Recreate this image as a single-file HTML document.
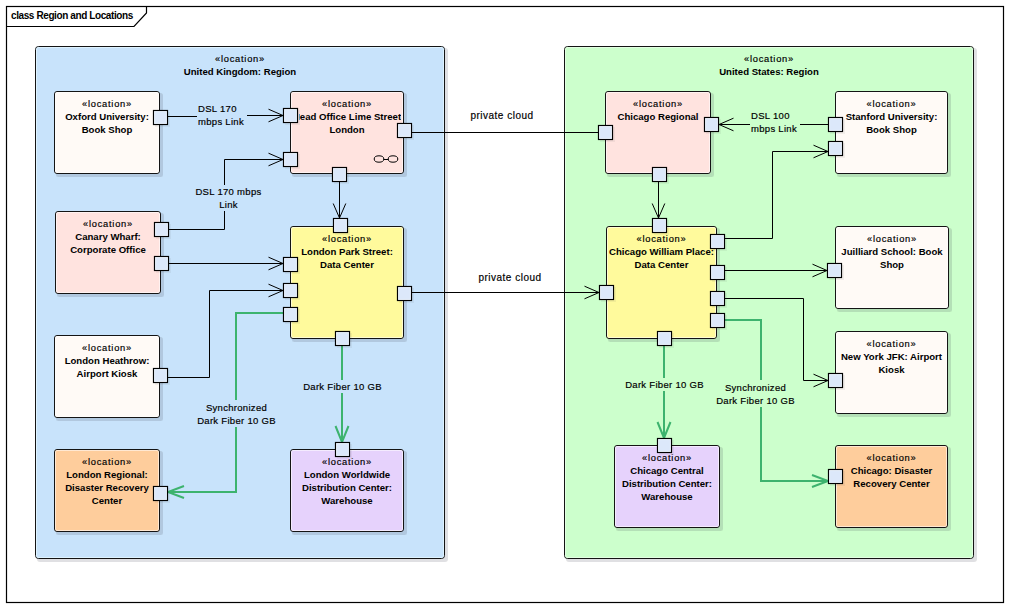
<!DOCTYPE html><html><head><meta charset="utf-8"><style>html,body{margin:0;padding:0;background:#fff;overflow:hidden}svg{display:block}text{font-family:"Liberation Sans",sans-serif}</style></head><body>
<svg width="1009" height="608" viewBox="0 0 1009 608">
<defs><clipPath id="hoclip"><rect x="299" y="100" width="102" height="30"/></clipPath><filter id="blur" x="-10%" y="-10%" width="120%" height="120%"><feGaussianBlur stdDeviation="0.6"/></filter></defs>
<rect x="0" y="0" width="1009" height="608" fill="#ffffff"/>
<rect x="6.5" y="6.5" width="997" height="596" fill="#fff" stroke="#000" stroke-width="1.2"/>
<path d="M6.5 26.5 H134 L146.5 13 V6.5" fill="none" stroke="#000" stroke-width="1.2"/>
<text x="11" y="19.3" font-size="10" font-weight="700" text-anchor="start" fill="#000"  letter-spacing="-0.4">class Region and Locations</text>
<rect x="37" y="48" width="411" height="514" rx="3" fill="rgba(50,55,65,0.15)" filter="url(#blur)"/>
<rect x="35.5" y="46.5" width="409" height="512" rx="3" fill="#C8E3FB" stroke="#141414" stroke-width="1"/>
<rect x="36.5" y="47.5" width="407" height="510" rx="2" fill="none" stroke="#E0F4FF" stroke-opacity="0.9" stroke-width="1"/>
<text x="240" y="62" font-size="9.3" font-weight="400" text-anchor="middle" fill="#000"  stroke="#000" stroke-width="0.18" letter-spacing="0.75">«location»</text>
<text x="240" y="75" font-size="9.6" font-weight="700" text-anchor="middle" fill="#000" >United Kingdom: Region</text>
<rect x="566" y="48" width="411" height="514" rx="3" fill="rgba(50,55,65,0.15)" filter="url(#blur)"/>
<rect x="564.5" y="46.5" width="409" height="512" rx="3" fill="#CCFFCC" stroke="#141414" stroke-width="1"/>
<rect x="565.5" y="47.5" width="407" height="510" rx="2" fill="none" stroke="#E4FFE4" stroke-opacity="0.9" stroke-width="1"/>
<text x="769" y="62" font-size="9.3" font-weight="400" text-anchor="middle" fill="#000"  stroke="#000" stroke-width="0.18" letter-spacing="0.75">«location»</text>
<text x="769" y="75" font-size="9.6" font-weight="700" text-anchor="middle" fill="#000" >United States: Region</text>
<path d="M168 116.5 L197 116.5" fill="none" stroke="#000000" stroke-width="1" stroke-linejoin="miter"/>
<path d="M247 115.5 L283 115.5" fill="none" stroke="#000000" stroke-width="1" stroke-linejoin="miter"/>
<path d="M268.5 109.2 L283 115.5 L268.5 121.8" fill="none" stroke="#000000" stroke-width="1" stroke-linejoin="miter"/>
<path d="M168 229.5 L224.5 229.5 L224.5 211" fill="none" stroke="#000000" stroke-width="1" stroke-linejoin="miter"/>
<path d="M224.5 185 L224.5 159.5 L283 159.5" fill="none" stroke="#000000" stroke-width="1" stroke-linejoin="miter"/>
<path d="M268.5 153.2 L283 159.5 L268.5 165.8" fill="none" stroke="#000000" stroke-width="1" stroke-linejoin="miter"/>
<path d="M168 263.5 L283 263.5" fill="none" stroke="#000000" stroke-width="1" stroke-linejoin="miter"/>
<path d="M268.5 257.2 L283 263.5 L268.5 269.8" fill="none" stroke="#000000" stroke-width="1" stroke-linejoin="miter"/>
<path d="M168 377.5 L209.5 377.5 L209.5 290.5 L283 290.5" fill="none" stroke="#000000" stroke-width="1" stroke-linejoin="miter"/>
<path d="M268.5 284.2 L283 290.5 L268.5 296.8" fill="none" stroke="#000000" stroke-width="1" stroke-linejoin="miter"/>
<path d="M283 313 L236 313 L236 400" fill="none" stroke="#3DB36E" stroke-width="2" stroke-linejoin="miter"/>
<path d="M236 427 L236 492 L168 492" fill="none" stroke="#3DB36E" stroke-width="2" stroke-linejoin="miter"/>
<path d="M184 486 L168 492 L184 498" fill="none" stroke="#3DB36E" stroke-width="2" stroke-linejoin="miter"/>
<path d="M339.5 181 L339.5 218" fill="none" stroke="#000000" stroke-width="1" stroke-linejoin="miter"/>
<path d="M333.2 203.5 L339.5 218 L345.8 203.5" fill="none" stroke="#000000" stroke-width="1" stroke-linejoin="miter"/>
<path d="M342 345 L342 380" fill="none" stroke="#3DB36E" stroke-width="2" stroke-linejoin="miter"/>
<path d="M342 393 L342 442" fill="none" stroke="#3DB36E" stroke-width="2" stroke-linejoin="miter"/>
<path d="M335.5 426 L342 442 L348.5 426" fill="none" stroke="#3DB36E" stroke-width="2" stroke-linejoin="miter"/>
<path d="M411 132.5 L598 132.5" fill="none" stroke="#000000" stroke-width="1" stroke-linejoin="miter"/>
<path d="M411 292.5 L599 292.5" fill="none" stroke="#000000" stroke-width="1" stroke-linejoin="miter"/>
<path d="M584.5 286.2 L599 292.5 L584.5 298.8" fill="none" stroke="#000000" stroke-width="1" stroke-linejoin="miter"/>
<path d="M719 124.5 L750 124.5" fill="none" stroke="#000000" stroke-width="1" stroke-linejoin="miter"/>
<path d="M800 124.5 L828 124.5" fill="none" stroke="#000000" stroke-width="1" stroke-linejoin="miter"/>
<path d="M733.5 118.2 L719 124.5 L733.5 130.8" fill="none" stroke="#000000" stroke-width="1" stroke-linejoin="miter"/>
<path d="M658.5 181 L658.5 218" fill="none" stroke="#000000" stroke-width="1" stroke-linejoin="miter"/>
<path d="M652.2 203.5 L658.5 218 L664.8 203.5" fill="none" stroke="#000000" stroke-width="1" stroke-linejoin="miter"/>
<path d="M724 238.5 L772.5 238.5 L772.5 151.5 L828 151.5" fill="none" stroke="#000000" stroke-width="1" stroke-linejoin="miter"/>
<path d="M813.5 145.2 L828 151.5 L813.5 157.8" fill="none" stroke="#000000" stroke-width="1" stroke-linejoin="miter"/>
<path d="M724 270.5 L827 270.5" fill="none" stroke="#000000" stroke-width="1" stroke-linejoin="miter"/>
<path d="M812.5 264.2 L827 270.5 L812.5 276.8" fill="none" stroke="#000000" stroke-width="1" stroke-linejoin="miter"/>
<path d="M724 298.5 L803.5 298.5 L803.5 380.5 L828 380.5" fill="none" stroke="#000000" stroke-width="1" stroke-linejoin="miter"/>
<path d="M813.5 374.2 L828 380.5 L813.5 386.8" fill="none" stroke="#000000" stroke-width="1" stroke-linejoin="miter"/>
<path d="M724 320 L761 320 L761 380" fill="none" stroke="#3DB36E" stroke-width="2" stroke-linejoin="miter"/>
<path d="M761 407 L761 481 L828 481" fill="none" stroke="#3DB36E" stroke-width="2" stroke-linejoin="miter"/>
<path d="M812 475 L828 481 L812 487" fill="none" stroke="#3DB36E" stroke-width="2" stroke-linejoin="miter"/>
<path d="M664 345 L664 378" fill="none" stroke="#3DB36E" stroke-width="2" stroke-linejoin="miter"/>
<path d="M664 391 L664 438" fill="none" stroke="#3DB36E" stroke-width="2" stroke-linejoin="miter"/>
<path d="M657.5 422 L664 438 L670.5 422" fill="none" stroke="#3DB36E" stroke-width="2" stroke-linejoin="miter"/>
<rect x="56" y="93" width="107" height="84" rx="2.5" fill="rgba(50,55,65,0.15)" filter="url(#blur)"/>
<rect x="54.5" y="91.5" width="105" height="82" rx="2.5" fill="#FFFAF6" stroke="#141414" stroke-width="1"/>
<rect x="55.5" y="92.5" width="103" height="80" rx="1.5" fill="none" stroke="#ffffff" stroke-opacity="0.55" stroke-width="1"/>
<text x="107.0" y="107" font-size="9.3" font-weight="400" text-anchor="middle" fill="#000"  stroke="#000" stroke-width="0.18" letter-spacing="0.75">«location»</text>
<text x="107.0" y="120" font-size="9.6" font-weight="700" text-anchor="middle" fill="#000" >Oxford University:</text>
<text x="107.0" y="133" font-size="9.6" font-weight="700" text-anchor="middle" fill="#000" >Book Shop</text>
<rect x="292" y="93" width="115" height="84" rx="2.5" fill="rgba(50,55,65,0.15)" filter="url(#blur)"/>
<rect x="290.5" y="91.5" width="113" height="82" rx="2.5" fill="#FFE3DF" stroke="#141414" stroke-width="1"/>
<rect x="291.5" y="92.5" width="111" height="80" rx="1.5" fill="none" stroke="#ffffff" stroke-opacity="0.55" stroke-width="1"/>
<text x="347.0" y="107" font-size="9.3" font-weight="400" text-anchor="middle" fill="#000"  stroke="#000" stroke-width="0.18" letter-spacing="0.75">«location»</text>
<g clip-path="url(#hoclip)">
<text x="347.0" y="120" font-size="9.6" font-weight="700" text-anchor="middle" fill="#000" >Head Office Lime Street</text>
</g>
<text x="347.0" y="133" font-size="9.6" font-weight="700" text-anchor="middle" fill="#000" >London</text>
<rect x="57" y="213" width="107" height="84" rx="2.5" fill="rgba(50,55,65,0.15)" filter="url(#blur)"/>
<rect x="55.5" y="211.5" width="105" height="82" rx="2.5" fill="#FFE3DF" stroke="#141414" stroke-width="1"/>
<rect x="56.5" y="212.5" width="103" height="80" rx="1.5" fill="none" stroke="#ffffff" stroke-opacity="0.55" stroke-width="1"/>
<text x="108.0" y="227" font-size="9.3" font-weight="400" text-anchor="middle" fill="#000"  stroke="#000" stroke-width="0.18" letter-spacing="0.75">«location»</text>
<text x="108.0" y="240" font-size="9.6" font-weight="700" text-anchor="middle" fill="#000" >Canary Wharf:</text>
<text x="108.0" y="253" font-size="9.6" font-weight="700" text-anchor="middle" fill="#000" >Corporate Office</text>
<rect x="292" y="228" width="115" height="114" rx="2.5" fill="rgba(50,55,65,0.15)" filter="url(#blur)"/>
<rect x="290.5" y="226.5" width="113" height="112" rx="2.5" fill="#FFFA9C" stroke="#141414" stroke-width="1"/>
<rect x="291.5" y="227.5" width="111" height="110" rx="1.5" fill="none" stroke="#ffffff" stroke-opacity="0.55" stroke-width="1"/>
<text x="347.0" y="242" font-size="9.3" font-weight="400" text-anchor="middle" fill="#000"  stroke="#000" stroke-width="0.18" letter-spacing="0.75">«location»</text>
<text x="347.0" y="255" font-size="9.6" font-weight="700" text-anchor="middle" fill="#000" >London Park Street:</text>
<text x="347.0" y="268" font-size="9.6" font-weight="700" text-anchor="middle" fill="#000" >Data Center</text>
<rect x="56" y="337" width="107" height="84" rx="2.5" fill="rgba(50,55,65,0.15)" filter="url(#blur)"/>
<rect x="54.5" y="335.5" width="105" height="82" rx="2.5" fill="#FFFAF6" stroke="#141414" stroke-width="1"/>
<rect x="55.5" y="336.5" width="103" height="80" rx="1.5" fill="none" stroke="#ffffff" stroke-opacity="0.55" stroke-width="1"/>
<text x="107.0" y="351" font-size="9.3" font-weight="400" text-anchor="middle" fill="#000"  stroke="#000" stroke-width="0.18" letter-spacing="0.75">«location»</text>
<text x="107.0" y="364" font-size="9.6" font-weight="700" text-anchor="middle" fill="#000" >London Heathrow:</text>
<text x="107.0" y="377" font-size="9.6" font-weight="700" text-anchor="middle" fill="#000" >Airport Kiosk</text>
<rect x="56" y="451" width="107" height="84" rx="2.5" fill="rgba(50,55,65,0.15)" filter="url(#blur)"/>
<rect x="54.5" y="449.5" width="105" height="82" rx="2.5" fill="#FECD9C" stroke="#141414" stroke-width="1"/>
<rect x="55.5" y="450.5" width="103" height="80" rx="1.5" fill="none" stroke="#ffffff" stroke-opacity="0.55" stroke-width="1"/>
<text x="107.0" y="465" font-size="9.3" font-weight="400" text-anchor="middle" fill="#000"  stroke="#000" stroke-width="0.18" letter-spacing="0.75">«location»</text>
<text x="107.0" y="478" font-size="9.6" font-weight="700" text-anchor="middle" fill="#000" >London Regional:</text>
<text x="107.0" y="491" font-size="9.6" font-weight="700" text-anchor="middle" fill="#000" >Disaster Recovery</text>
<text x="107.0" y="504" font-size="9.6" font-weight="700" text-anchor="middle" fill="#000" >Center</text>
<rect x="292" y="451" width="115" height="84" rx="2.5" fill="rgba(50,55,65,0.15)" filter="url(#blur)"/>
<rect x="290.5" y="449.5" width="113" height="82" rx="2.5" fill="#E6D2FC" stroke="#141414" stroke-width="1"/>
<rect x="291.5" y="450.5" width="111" height="80" rx="1.5" fill="none" stroke="#ffffff" stroke-opacity="0.55" stroke-width="1"/>
<text x="347.0" y="465" font-size="9.3" font-weight="400" text-anchor="middle" fill="#000"  stroke="#000" stroke-width="0.18" letter-spacing="0.75">«location»</text>
<text x="347.0" y="478" font-size="9.6" font-weight="700" text-anchor="middle" fill="#000" >London Worldwide</text>
<text x="347.0" y="491" font-size="9.6" font-weight="700" text-anchor="middle" fill="#000" >Distribution Center:</text>
<text x="347.0" y="504" font-size="9.6" font-weight="700" text-anchor="middle" fill="#000" >Warehouse</text>
<rect x="607" y="93" width="107" height="84" rx="2.5" fill="rgba(50,55,65,0.15)" filter="url(#blur)"/>
<rect x="605.5" y="91.5" width="105" height="82" rx="2.5" fill="#FFE3DF" stroke="#141414" stroke-width="1"/>
<rect x="606.5" y="92.5" width="103" height="80" rx="1.5" fill="none" stroke="#ffffff" stroke-opacity="0.55" stroke-width="1"/>
<text x="658.0" y="107" font-size="9.3" font-weight="400" text-anchor="middle" fill="#000"  stroke="#000" stroke-width="0.18" letter-spacing="0.75">«location»</text>
<text x="658.0" y="120" font-size="9.6" font-weight="700" text-anchor="middle" fill="#000" >Chicago Regional</text>
<rect x="837" y="93" width="114" height="84" rx="2.5" fill="rgba(50,55,65,0.15)" filter="url(#blur)"/>
<rect x="835.5" y="91.5" width="112" height="82" rx="2.5" fill="#FFFAF6" stroke="#141414" stroke-width="1"/>
<rect x="836.5" y="92.5" width="110" height="80" rx="1.5" fill="none" stroke="#ffffff" stroke-opacity="0.55" stroke-width="1"/>
<text x="891.5" y="107" font-size="9.3" font-weight="400" text-anchor="middle" fill="#000"  stroke="#000" stroke-width="0.18" letter-spacing="0.75">«location»</text>
<text x="891.5" y="120" font-size="9.6" font-weight="700" text-anchor="middle" fill="#000" >Stanford University:</text>
<text x="891.5" y="133" font-size="9.6" font-weight="700" text-anchor="middle" fill="#000" >Book Shop</text>
<rect x="608" y="228" width="112" height="114" rx="2.5" fill="rgba(50,55,65,0.15)" filter="url(#blur)"/>
<rect x="606.5" y="226.5" width="110" height="112" rx="2.5" fill="#FFFA9C" stroke="#141414" stroke-width="1"/>
<rect x="607.5" y="227.5" width="108" height="110" rx="1.5" fill="none" stroke="#ffffff" stroke-opacity="0.55" stroke-width="1"/>
<text x="661.5" y="242" font-size="9.3" font-weight="400" text-anchor="middle" fill="#000"  stroke="#000" stroke-width="0.18" letter-spacing="0.75">«location»</text>
<text x="661.5" y="255" font-size="9.6" font-weight="700" text-anchor="middle" fill="#000" >Chicago William Place:</text>
<text x="661.5" y="268" font-size="9.6" font-weight="700" text-anchor="middle" fill="#000" >Data Center</text>
<rect x="837" y="228" width="115" height="84" rx="2.5" fill="rgba(50,55,65,0.15)" filter="url(#blur)"/>
<rect x="835.5" y="226.5" width="113" height="82" rx="2.5" fill="#FFFAF6" stroke="#141414" stroke-width="1"/>
<rect x="836.5" y="227.5" width="111" height="80" rx="1.5" fill="none" stroke="#ffffff" stroke-opacity="0.55" stroke-width="1"/>
<text x="892.0" y="242" font-size="9.3" font-weight="400" text-anchor="middle" fill="#000"  stroke="#000" stroke-width="0.18" letter-spacing="0.75">«location»</text>
<text x="892.0" y="255" font-size="9.6" font-weight="700" text-anchor="middle" fill="#000" >Juilliard School: Book</text>
<text x="892.0" y="268" font-size="9.6" font-weight="700" text-anchor="middle" fill="#000" >Shop</text>
<rect x="837" y="333" width="114" height="84" rx="2.5" fill="rgba(50,55,65,0.15)" filter="url(#blur)"/>
<rect x="835.5" y="331.5" width="112" height="82" rx="2.5" fill="#FFFAF6" stroke="#141414" stroke-width="1"/>
<rect x="836.5" y="332.5" width="110" height="80" rx="1.5" fill="none" stroke="#ffffff" stroke-opacity="0.55" stroke-width="1"/>
<text x="891.5" y="347" font-size="9.3" font-weight="400" text-anchor="middle" fill="#000"  stroke="#000" stroke-width="0.18" letter-spacing="0.75">«location»</text>
<text x="891.5" y="360" font-size="9.6" font-weight="700" text-anchor="middle" fill="#000" >New York JFK: Airport</text>
<text x="891.5" y="373" font-size="9.6" font-weight="700" text-anchor="middle" fill="#000" >Kiosk</text>
<rect x="616" y="447" width="107" height="84" rx="2.5" fill="rgba(50,55,65,0.15)" filter="url(#blur)"/>
<rect x="614.5" y="445.5" width="105" height="82" rx="2.5" fill="#E6D2FC" stroke="#141414" stroke-width="1"/>
<rect x="615.5" y="446.5" width="103" height="80" rx="1.5" fill="none" stroke="#ffffff" stroke-opacity="0.55" stroke-width="1"/>
<text x="667.0" y="461" font-size="9.3" font-weight="400" text-anchor="middle" fill="#000"  stroke="#000" stroke-width="0.18" letter-spacing="0.75">«location»</text>
<text x="667.0" y="474" font-size="9.6" font-weight="700" text-anchor="middle" fill="#000" >Chicago Central</text>
<text x="667.0" y="487" font-size="9.6" font-weight="700" text-anchor="middle" fill="#000" >Distribution Center:</text>
<text x="667.0" y="500" font-size="9.6" font-weight="700" text-anchor="middle" fill="#000" >Warehouse</text>
<rect x="837" y="447" width="114" height="84" rx="2.5" fill="rgba(50,55,65,0.15)" filter="url(#blur)"/>
<rect x="835.5" y="445.5" width="112" height="82" rx="2.5" fill="#FECD9C" stroke="#141414" stroke-width="1"/>
<rect x="836.5" y="446.5" width="110" height="80" rx="1.5" fill="none" stroke="#ffffff" stroke-opacity="0.55" stroke-width="1"/>
<text x="891.5" y="461" font-size="9.3" font-weight="400" text-anchor="middle" fill="#000"  stroke="#000" stroke-width="0.18" letter-spacing="0.75">«location»</text>
<text x="891.5" y="474" font-size="9.6" font-weight="700" text-anchor="middle" fill="#000" >Chicago: Disaster</text>
<text x="891.5" y="487" font-size="9.6" font-weight="700" text-anchor="middle" fill="#000" >Recovery Center</text>
<ellipse cx="379" cy="159" rx="4.8" ry="3.2" fill="none" stroke="#000" stroke-width="1"/>
<ellipse cx="393" cy="159" rx="4.8" ry="3.2" fill="none" stroke="#000" stroke-width="1"/>
<path d="M383.8 159.5 H388.2" stroke="#000" stroke-width="1"/>
<rect x="155" y="112" width="15" height="15" fill="rgba(50,55,65,0.07)" filter="url(#blur)"/>
<rect x="153.5" y="110.5" width="14" height="14" fill="#DCE8FA" stroke="#000" stroke-width="1.2"/>
<rect x="154.6" y="111.6" width="11.8" height="11.8" fill="none" stroke="#F4F8FF" stroke-opacity="0.6" stroke-width="1"/>
<rect x="285" y="110" width="15" height="15" fill="rgba(50,55,65,0.07)" filter="url(#blur)"/>
<rect x="283.5" y="108.5" width="14" height="14" fill="#DCE8FA" stroke="#000" stroke-width="1.2"/>
<rect x="284.6" y="109.6" width="11.8" height="11.8" fill="none" stroke="#F4F8FF" stroke-opacity="0.6" stroke-width="1"/>
<rect x="285" y="154" width="15" height="15" fill="rgba(50,55,65,0.07)" filter="url(#blur)"/>
<rect x="283.5" y="152.5" width="14" height="14" fill="#DCE8FA" stroke="#000" stroke-width="1.2"/>
<rect x="284.6" y="153.6" width="11.8" height="11.8" fill="none" stroke="#F4F8FF" stroke-opacity="0.6" stroke-width="1"/>
<rect x="399" y="125" width="15" height="15" fill="rgba(50,55,65,0.07)" filter="url(#blur)"/>
<rect x="397.5" y="123.5" width="14" height="14" fill="#DCE8FA" stroke="#000" stroke-width="1.2"/>
<rect x="398.6" y="124.6" width="11.8" height="11.8" fill="none" stroke="#F4F8FF" stroke-opacity="0.6" stroke-width="1"/>
<rect x="334" y="169" width="15" height="15" fill="rgba(50,55,65,0.07)" filter="url(#blur)"/>
<rect x="332.5" y="167.5" width="14" height="14" fill="#DCE8FA" stroke="#000" stroke-width="1.2"/>
<rect x="333.6" y="168.6" width="11.8" height="11.8" fill="none" stroke="#F4F8FF" stroke-opacity="0.6" stroke-width="1"/>
<rect x="156" y="224" width="15" height="15" fill="rgba(50,55,65,0.07)" filter="url(#blur)"/>
<rect x="154.5" y="222.5" width="14" height="14" fill="#DCE8FA" stroke="#000" stroke-width="1.2"/>
<rect x="155.6" y="223.6" width="11.8" height="11.8" fill="none" stroke="#F4F8FF" stroke-opacity="0.6" stroke-width="1"/>
<rect x="156" y="258" width="15" height="15" fill="rgba(50,55,65,0.07)" filter="url(#blur)"/>
<rect x="154.5" y="256.5" width="14" height="14" fill="#DCE8FA" stroke="#000" stroke-width="1.2"/>
<rect x="155.6" y="257.6" width="11.8" height="11.8" fill="none" stroke="#F4F8FF" stroke-opacity="0.6" stroke-width="1"/>
<rect x="285" y="259" width="15" height="15" fill="rgba(50,55,65,0.07)" filter="url(#blur)"/>
<rect x="283.5" y="257.5" width="14" height="14" fill="#DCE8FA" stroke="#000" stroke-width="1.2"/>
<rect x="284.6" y="258.6" width="11.8" height="11.8" fill="none" stroke="#F4F8FF" stroke-opacity="0.6" stroke-width="1"/>
<rect x="285" y="285" width="15" height="15" fill="rgba(50,55,65,0.07)" filter="url(#blur)"/>
<rect x="283.5" y="283.5" width="14" height="14" fill="#DCE8FA" stroke="#000" stroke-width="1.2"/>
<rect x="284.6" y="284.6" width="11.8" height="11.8" fill="none" stroke="#F4F8FF" stroke-opacity="0.6" stroke-width="1"/>
<rect x="285" y="309" width="15" height="15" fill="rgba(50,55,65,0.07)" filter="url(#blur)"/>
<rect x="283.5" y="307.5" width="14" height="14" fill="#DCE8FA" stroke="#000" stroke-width="1.2"/>
<rect x="284.6" y="308.6" width="11.8" height="11.8" fill="none" stroke="#F4F8FF" stroke-opacity="0.6" stroke-width="1"/>
<rect x="399" y="288" width="15" height="15" fill="rgba(50,55,65,0.07)" filter="url(#blur)"/>
<rect x="397.5" y="286.5" width="14" height="14" fill="#DCE8FA" stroke="#000" stroke-width="1.2"/>
<rect x="398.6" y="287.6" width="11.8" height="11.8" fill="none" stroke="#F4F8FF" stroke-opacity="0.6" stroke-width="1"/>
<rect x="335" y="220" width="15" height="15" fill="rgba(50,55,65,0.07)" filter="url(#blur)"/>
<rect x="333.5" y="218.5" width="14" height="14" fill="#DCE8FA" stroke="#000" stroke-width="1.2"/>
<rect x="334.6" y="219.6" width="11.8" height="11.8" fill="none" stroke="#F4F8FF" stroke-opacity="0.6" stroke-width="1"/>
<rect x="337" y="333" width="15" height="15" fill="rgba(50,55,65,0.07)" filter="url(#blur)"/>
<rect x="335.5" y="331.5" width="14" height="14" fill="#DCE8FA" stroke="#000" stroke-width="1.2"/>
<rect x="336.6" y="332.6" width="11.8" height="11.8" fill="none" stroke="#F4F8FF" stroke-opacity="0.6" stroke-width="1"/>
<rect x="155" y="370" width="15" height="15" fill="rgba(50,55,65,0.07)" filter="url(#blur)"/>
<rect x="153.5" y="368.5" width="14" height="14" fill="#DCE8FA" stroke="#000" stroke-width="1.2"/>
<rect x="154.6" y="369.6" width="11.8" height="11.8" fill="none" stroke="#F4F8FF" stroke-opacity="0.6" stroke-width="1"/>
<rect x="155" y="488" width="15" height="15" fill="rgba(50,55,65,0.07)" filter="url(#blur)"/>
<rect x="153.5" y="486.5" width="14" height="14" fill="#DCE8FA" stroke="#000" stroke-width="1.2"/>
<rect x="154.6" y="487.6" width="11.8" height="11.8" fill="none" stroke="#F4F8FF" stroke-opacity="0.6" stroke-width="1"/>
<rect x="337" y="444" width="15" height="15" fill="rgba(50,55,65,0.07)" filter="url(#blur)"/>
<rect x="335.5" y="442.5" width="14" height="14" fill="#DCE8FA" stroke="#000" stroke-width="1.2"/>
<rect x="336.6" y="443.6" width="11.8" height="11.8" fill="none" stroke="#F4F8FF" stroke-opacity="0.6" stroke-width="1"/>
<rect x="600" y="127" width="15" height="15" fill="rgba(50,55,65,0.07)" filter="url(#blur)"/>
<rect x="598.5" y="125.5" width="14" height="14" fill="#DCE8FA" stroke="#000" stroke-width="1.2"/>
<rect x="599.6" y="126.6" width="11.8" height="11.8" fill="none" stroke="#F4F8FF" stroke-opacity="0.6" stroke-width="1"/>
<rect x="706" y="119" width="15" height="15" fill="rgba(50,55,65,0.07)" filter="url(#blur)"/>
<rect x="704.5" y="117.5" width="14" height="14" fill="#DCE8FA" stroke="#000" stroke-width="1.2"/>
<rect x="705.6" y="118.6" width="11.8" height="11.8" fill="none" stroke="#F4F8FF" stroke-opacity="0.6" stroke-width="1"/>
<rect x="654" y="169" width="15" height="15" fill="rgba(50,55,65,0.07)" filter="url(#blur)"/>
<rect x="652.5" y="167.5" width="14" height="14" fill="#DCE8FA" stroke="#000" stroke-width="1.2"/>
<rect x="653.6" y="168.6" width="11.8" height="11.8" fill="none" stroke="#F4F8FF" stroke-opacity="0.6" stroke-width="1"/>
<rect x="830" y="119" width="15" height="15" fill="rgba(50,55,65,0.07)" filter="url(#blur)"/>
<rect x="828.5" y="117.5" width="14" height="14" fill="#DCE8FA" stroke="#000" stroke-width="1.2"/>
<rect x="829.6" y="118.6" width="11.8" height="11.8" fill="none" stroke="#F4F8FF" stroke-opacity="0.6" stroke-width="1"/>
<rect x="830" y="143" width="15" height="15" fill="rgba(50,55,65,0.07)" filter="url(#blur)"/>
<rect x="828.5" y="141.5" width="14" height="14" fill="#DCE8FA" stroke="#000" stroke-width="1.2"/>
<rect x="829.6" y="142.6" width="11.8" height="11.8" fill="none" stroke="#F4F8FF" stroke-opacity="0.6" stroke-width="1"/>
<rect x="654" y="220" width="15" height="15" fill="rgba(50,55,65,0.07)" filter="url(#blur)"/>
<rect x="652.5" y="218.5" width="14" height="14" fill="#DCE8FA" stroke="#000" stroke-width="1.2"/>
<rect x="653.6" y="219.6" width="11.8" height="11.8" fill="none" stroke="#F4F8FF" stroke-opacity="0.6" stroke-width="1"/>
<rect x="601" y="287" width="15" height="15" fill="rgba(50,55,65,0.07)" filter="url(#blur)"/>
<rect x="599.5" y="285.5" width="14" height="14" fill="#DCE8FA" stroke="#000" stroke-width="1.2"/>
<rect x="600.6" y="286.6" width="11.8" height="11.8" fill="none" stroke="#F4F8FF" stroke-opacity="0.6" stroke-width="1"/>
<rect x="712" y="236" width="15" height="15" fill="rgba(50,55,65,0.07)" filter="url(#blur)"/>
<rect x="710.5" y="234.5" width="14" height="14" fill="#DCE8FA" stroke="#000" stroke-width="1.2"/>
<rect x="711.6" y="235.6" width="11.8" height="11.8" fill="none" stroke="#F4F8FF" stroke-opacity="0.6" stroke-width="1"/>
<rect x="712" y="267" width="15" height="15" fill="rgba(50,55,65,0.07)" filter="url(#blur)"/>
<rect x="710.5" y="265.5" width="14" height="14" fill="#DCE8FA" stroke="#000" stroke-width="1.2"/>
<rect x="711.6" y="266.6" width="11.8" height="11.8" fill="none" stroke="#F4F8FF" stroke-opacity="0.6" stroke-width="1"/>
<rect x="712" y="293" width="15" height="15" fill="rgba(50,55,65,0.07)" filter="url(#blur)"/>
<rect x="710.5" y="291.5" width="14" height="14" fill="#DCE8FA" stroke="#000" stroke-width="1.2"/>
<rect x="711.6" y="292.6" width="11.8" height="11.8" fill="none" stroke="#F4F8FF" stroke-opacity="0.6" stroke-width="1"/>
<rect x="712" y="315" width="15" height="15" fill="rgba(50,55,65,0.07)" filter="url(#blur)"/>
<rect x="710.5" y="313.5" width="14" height="14" fill="#DCE8FA" stroke="#000" stroke-width="1.2"/>
<rect x="711.6" y="314.6" width="11.8" height="11.8" fill="none" stroke="#F4F8FF" stroke-opacity="0.6" stroke-width="1"/>
<rect x="659" y="333" width="15" height="15" fill="rgba(50,55,65,0.07)" filter="url(#blur)"/>
<rect x="657.5" y="331.5" width="14" height="14" fill="#DCE8FA" stroke="#000" stroke-width="1.2"/>
<rect x="658.6" y="332.6" width="11.8" height="11.8" fill="none" stroke="#F4F8FF" stroke-opacity="0.6" stroke-width="1"/>
<rect x="829" y="265" width="15" height="15" fill="rgba(50,55,65,0.07)" filter="url(#blur)"/>
<rect x="827.5" y="263.5" width="14" height="14" fill="#DCE8FA" stroke="#000" stroke-width="1.2"/>
<rect x="828.6" y="264.6" width="11.8" height="11.8" fill="none" stroke="#F4F8FF" stroke-opacity="0.6" stroke-width="1"/>
<rect x="830" y="375" width="15" height="15" fill="rgba(50,55,65,0.07)" filter="url(#blur)"/>
<rect x="828.5" y="373.5" width="14" height="14" fill="#DCE8FA" stroke="#000" stroke-width="1.2"/>
<rect x="829.6" y="374.6" width="11.8" height="11.8" fill="none" stroke="#F4F8FF" stroke-opacity="0.6" stroke-width="1"/>
<rect x="659" y="440" width="15" height="15" fill="rgba(50,55,65,0.07)" filter="url(#blur)"/>
<rect x="657.5" y="438.5" width="14" height="14" fill="#DCE8FA" stroke="#000" stroke-width="1.2"/>
<rect x="658.6" y="439.6" width="11.8" height="11.8" fill="none" stroke="#F4F8FF" stroke-opacity="0.6" stroke-width="1"/>
<rect x="830" y="471" width="15" height="15" fill="rgba(50,55,65,0.07)" filter="url(#blur)"/>
<rect x="828.5" y="469.5" width="14" height="14" fill="#DCE8FA" stroke="#000" stroke-width="1.2"/>
<rect x="829.6" y="470.6" width="11.8" height="11.8" fill="none" stroke="#F4F8FF" stroke-opacity="0.6" stroke-width="1"/>
<text x="198" y="112" font-size="9.5" font-weight="400" text-anchor="start" fill="#000"  stroke="#000" stroke-width="0.18" letter-spacing="0.3">DSL 170</text>
<text x="198" y="124.5" font-size="9.5" font-weight="400" text-anchor="start" fill="#000"  stroke="#000" stroke-width="0.18" letter-spacing="0.3">mbps Link</text>
<text x="228.5" y="195" font-size="9.5" font-weight="400" text-anchor="middle" fill="#000"  stroke="#000" stroke-width="0.18" letter-spacing="0.3">DSL 170 mbps</text>
<text x="228.5" y="207.5" font-size="9.5" font-weight="400" text-anchor="middle" fill="#000"  stroke="#000" stroke-width="0.18" letter-spacing="0.3">Link</text>
<text x="236.5" y="411" font-size="9.5" font-weight="400" text-anchor="middle" fill="#000"  stroke="#000" stroke-width="0.18" letter-spacing="0.3">Synchronized</text>
<text x="236.5" y="423.5" font-size="9.5" font-weight="400" text-anchor="middle" fill="#000"  stroke="#000" stroke-width="0.18" letter-spacing="0.3">Dark Fiber 10 GB</text>
<text x="342.5" y="389.5" font-size="9.5" font-weight="400" text-anchor="middle" fill="#000"  stroke="#000" stroke-width="0.18" letter-spacing="0.3">Dark Fiber 10 GB</text>
<text x="502" y="119" font-size="10" font-weight="400" text-anchor="middle" fill="#000"  stroke="#000" stroke-width="0.18" letter-spacing="0.5">private cloud</text>
<text x="510" y="281" font-size="10" font-weight="400" text-anchor="middle" fill="#000"  stroke="#000" stroke-width="0.18" letter-spacing="0.5">private cloud</text>
<text x="751" y="119" font-size="9.5" font-weight="400" text-anchor="start" fill="#000"  stroke="#000" stroke-width="0.18" letter-spacing="0.3">DSL 100</text>
<text x="751" y="132" font-size="9.5" font-weight="400" text-anchor="start" fill="#000"  stroke="#000" stroke-width="0.18" letter-spacing="0.3">mbps Link</text>
<text x="664.5" y="388" font-size="9.5" font-weight="400" text-anchor="middle" fill="#000"  stroke="#000" stroke-width="0.18" letter-spacing="0.3">Dark Fiber 10 GB</text>
<text x="755.5" y="391" font-size="9.5" font-weight="400" text-anchor="middle" fill="#000"  stroke="#000" stroke-width="0.18" letter-spacing="0.3">Synchronized</text>
<text x="755.5" y="404" font-size="9.5" font-weight="400" text-anchor="middle" fill="#000"  stroke="#000" stroke-width="0.18" letter-spacing="0.3">Dark Fiber 10 GB</text>
</svg></body></html>
